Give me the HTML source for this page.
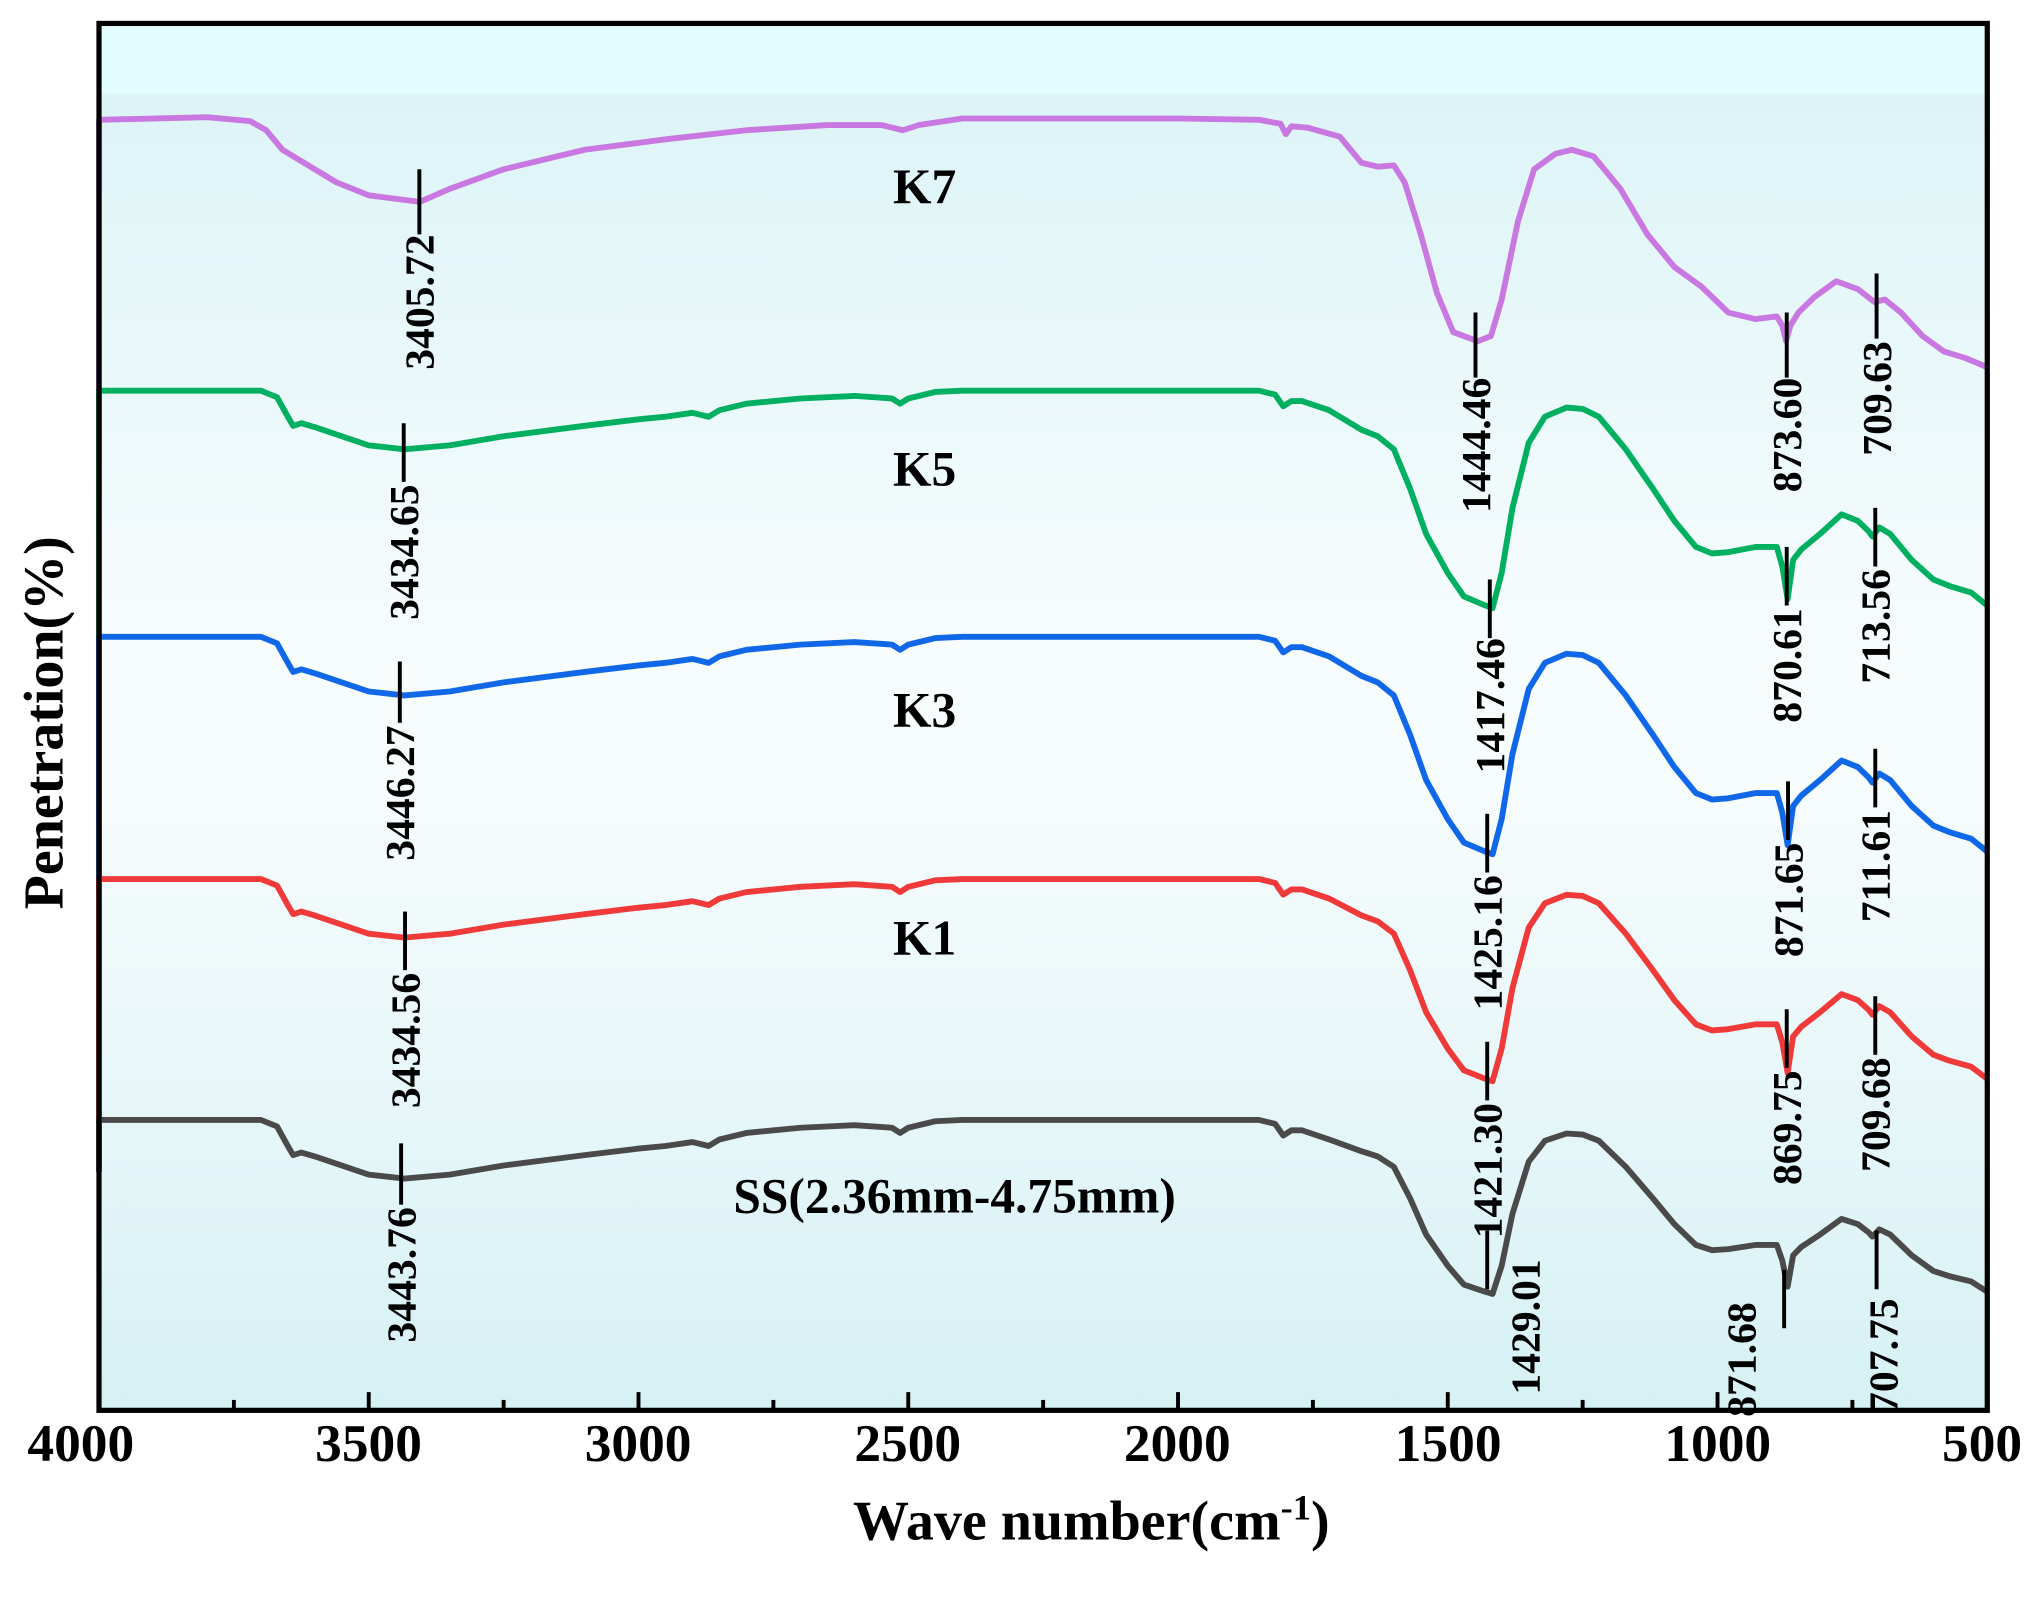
<!DOCTYPE html>
<html><head><meta charset="utf-8"><style>
html,body{margin:0;padding:0;background:#fff;}
svg{display:block;}
text{font-family:"Liberation Serif",serif;font-weight:bold;fill:#000;}
</style></head><body>
<svg id="s" width="2042" height="1601" viewBox="0 0 1568 1229.4" xmlns="http://www.w3.org/2000/svg">
<defs>
<linearGradient id="bg" x1="0" y1="0" x2="0" y2="1">
<stop offset="0" stop-color="#d9f3f6"/>
<stop offset="0.45" stop-color="#f7fcfd"/>
<stop offset="0.55" stop-color="#f7fcfd"/>
<stop offset="1" stop-color="#d6f1f4"/>
</linearGradient>
</defs>
<rect x="76" y="18" width="1450" height="1065" fill="url(#bg)"/>
<rect x="76" y="18" width="1450" height="54" fill="#e2fdfd"/>
<g id="curves" fill="none" stroke-width="4.5" stroke-linejoin="round"></g>
<g id="ticks" stroke="#000" stroke-width="3"></g>
<rect x="76" y="18" width="1450" height="1065" fill="none" stroke="#000" stroke-width="4"/>
<g font-size="41" text-anchor="middle">
<text x="62" y="1122">4000</text><text x="283" y="1122">3500</text><text x="490" y="1122">3000</text>
<text x="697" y="1122">2500</text><text x="904" y="1122">2000</text><text x="1112" y="1122">1500</text>
<text x="1319" y="1122">1000</text><text x="1522" y="1122">500</text>
</g>
<text x="838" y="1182" font-size="43" text-anchor="middle">Wave number(cm<tspan font-size="28" dy="-15">-1</tspan><tspan dy="15">)</tspan></text>
<text transform="translate(48,555) rotate(-90)" font-size="43" text-anchor="middle">Penetration(%)</text>
<g font-size="38" text-anchor="middle">
<text x="710" y="156">K7</text><text x="710" y="373">K5</text><text x="710" y="558">K3</text>
<text x="710" y="733">K1</text><text x="733" y="931">SS(2.36mm-4.75mm)</text>
</g>
<g id="ann" stroke="#000" stroke-width="3"></g>
<g font-size="32" text-anchor="end" id="anntext">
<text transform="translate(333,180) rotate(-90)">3405.72</text>
<text transform="translate(1144,290) rotate(-90)">1444.46</text>
<text transform="translate(1383,290) rotate(-90)">873.60</text>
<text transform="translate(1452,262) rotate(-90)">709.63</text>
<text transform="translate(321,372) rotate(-90)">3434.65</text>
<text transform="translate(1155,490) rotate(-90)">1417.46</text>
<text transform="translate(1383,467) rotate(-90)">870.61</text>
<text transform="translate(1451,437) rotate(-90)">713.56</text>
<text transform="translate(318,557) rotate(-90)">3446.27</text>
<text transform="translate(1153,672) rotate(-90)">1425.16</text>
<text transform="translate(1384,647) rotate(-90)">871.65</text>
<text transform="translate(1451,622) rotate(-90)">711.61</text>
<text transform="translate(322,747) rotate(-90)">3434.56</text>
<text transform="translate(1153,847) rotate(-90)">1421.30</text>
<text transform="translate(1383,822) rotate(-90)">869.75</text>
<text transform="translate(1451,812) rotate(-90)">709.68</text>
<text transform="translate(319,927) rotate(-90)">3443.76</text>
<text transform="translate(1182,967) rotate(-90)">1429.01</text>
<text transform="translate(1348,1000) rotate(-90)">871.68</text>
<text transform="translate(1457,997) rotate(-90)">707.75</text>
</g>
</svg>
<script>
var NS="http://www.w3.org/2000/svg";
function X(w){return 76+(4000-w)*1450/3500;}
var T=[[4000,0],[3700,0],[3670,5],[3650,20],[3640,27],[3625,25],[3600,28],[3550,35],[3500,42],[3434,45],[3350,42],[3250,35],[3100,27],[3000,22],[2950,20],[2900,17],[2870,20],[2850,15],[2800,10],[2700,6],[2600,4],[2530,6],[2515,10],[2500,6],[2450,1],[2400,0],[1850,0],[1820,3],[1805,12],[1790,8],[1770,8],[1720,15],[1660,30],[1630,35],[1600,45],[1570,75],[1540,110],[1500,140],[1470,158],[1430,165],[1417,167],[1400,140],[1380,90],[1350,40],[1320,20],[1280,13],[1250,14],[1220,20],[1170,45],[1120,75],[1080,100],[1040,120],[1010,125],[980,124],[930,120],[890,120],[880,135],[870,160],[860,130],[845,122],[810,110],[770,95],[740,100],[720,108],[713,112],[700,105],[680,110],[640,130],[600,145],[570,150],[530,155],[500,165]];
var K7=[[4000,92],[3800,90],[3720,93],[3690,100],[3660,115],[3620,125],[3560,140],[3500,150],[3405,155],[3350,145],[3250,130],[3100,115],[2950,107],[2800,100],[2650,96],[2550,96],[2510,100],[2480,96],[2400,91],[2000,91],[1850,92],[1810,95],[1800,103],[1790,97],[1760,98],[1700,105],[1660,125],[1630,128],[1600,127],[1580,140],[1550,180],[1520,225],[1490,255],[1444,262],[1420,258],[1400,230],[1370,170],[1340,130],[1300,118],[1270,115],[1230,120],[1180,145],[1130,180],[1080,205],[1030,220],[980,240],[930,245],[890,243],[880,250],[873,262],[865,250],[850,240],[820,228],[780,216],[740,222],[709,232],[690,230],[660,240],[620,258],[580,270],[540,275],[500,282]];
function path(pts,col,top,bot){var d="M76,"+bot+" L76,"+top;pts.forEach(function(p){d+=" L"+X(p[0]).toFixed(1)+","+p[1].toFixed(1);});
var e=document.createElementNS(NS,"path");e.setAttribute("d",d);e.setAttribute("stroke",col);document.getElementById("curves").appendChild(e);}
function fromT(base,sc){return T.map(function(p){var s=p[0]<1700?sc:1;return [p[0],base+p[1]*s];});}
path(K7,"#c878e0",92,300);
path(fromT(300,1.0),"#00b060",300,489);
path(fromT(489,1.0),"#1068e8",489,675);
path(fromT(675,0.93),"#f03a3a",675,860);
path(fromT(860,0.8),"#4a4a4a",860,900);
var tg=document.getElementById("ticks");
for(var w=3750;w>500;w-=250){var x=X(w),l=(w%500==0)?14:8;var ln=document.createElementNS(NS,"line");ln.setAttribute("x1",x);ln.setAttribute("x2",x);ln.setAttribute("y1",1083);ln.setAttribute("y2",1083-l);tg.appendChild(ln);}
var A=[[322,130,180],[1133,240,290],[1372,240,290],[1441,210,260],[310,325,370],[1144,445,490],[1372,420,465],[1440,390,435],[307,508,555],[1142,625,670],[1373,600,645],[1440,575,620],[311,700,745],[1142,800,845],[1372,775,820],[1440,765,810],[308,878,925],[1142,945,990],[1370,975,1020],[1441,945,990]];
var ag=document.getElementById("ann");
A.forEach(function(a){var ln=document.createElementNS(NS,"line");ln.setAttribute("x1",a[0]);ln.setAttribute("x2",a[0]);ln.setAttribute("y1",a[1]);ln.setAttribute("y2",a[2]);ag.appendChild(ln);});
</script>
</body></html>
